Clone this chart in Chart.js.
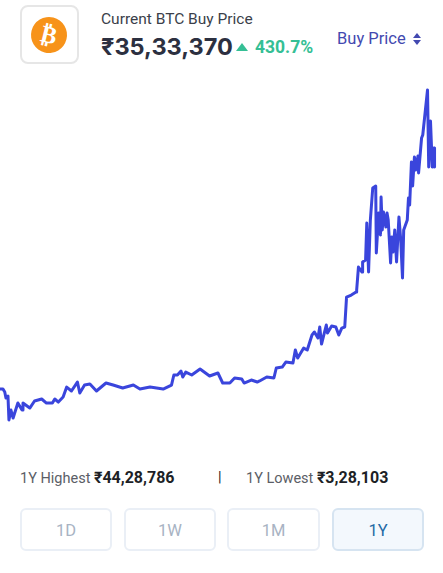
<!DOCTYPE html>
<html>
<head>
<meta charset="utf-8">
<title>BTC Buy Price</title>
<script src="https://cdn.jsdelivr.net/npm/chart.js@4"></script>
<style>
html, body { margin: 0; padding: 0; background: #fff; }
body { position: relative; width: 443px; height: 573px; overflow: hidden; font-family: Roboto, sans-serif; }
.abs { position: absolute; white-space: nowrap; }
#iconBox { left: 20px; top: 5px; width: 55px; height: 55px; border: 2px solid #e6e6e6; border-radius: 8px; }
#coin { left: 31px; top: 17px; width: 36px; height: 36px; border-radius: 50%; background: #f7931a; color: #fff; font: bold 24px/36px "DejaVu Sans"; text-align: center; transform: rotate(14deg); }
#title { left: 101px; top: 9px; font-size: 15.5px; line-height: 20px; color: #3b3f4a; }
#price { left: 101px; top: 33px; font: bold 23.5px/28px Inter, sans-serif; color: #2c3040; }
#arrow { left: 236px; top: 43px; width: 0; height: 0; border-left: 6.5px solid transparent; border-right: 6.5px solid transparent; border-bottom: 8px solid #35bf95; }
#change { left: 255px; top: 36px; font: bold 17.5px/22px Roboto, sans-serif; color: #35bf95; }
#buy { left: 337px; top: 29px; font-size: 16.5px; line-height: 20px; color: #4349b0; }
#up { left: 413px; top: 33px; width: 0; height: 0; border-left: 4.5px solid transparent; border-right: 4.5px solid transparent; border-bottom: 5px solid #4349b0; }
#down { left: 413px; top: 40px; width: 0; height: 0; border-left: 4.5px solid transparent; border-right: 4.5px solid transparent; border-top: 5px solid #4349b0; }
#chartBox { left: 0; top: 80px; width: 443px; height: 360px; }
.stat { top: 468px; font-size: 14.5px; line-height: 20px; color: #5b5e66; }
.stat b { font: bold 16px/20px Roboto, sans-serif; color: #1d1f26; }
.btn { top: 508px; height: 39px; border: 2px solid #eaeff6; border-radius: 6px; box-sizing: content-box; text-align: center; font-size: 16.5px; line-height: 42px; color: #a8b3c3; }
.btn.on { background: #f3f8fd; border-color: #d6e4f1; color: #1f6aa5; }
</style>
</head>
<body>
<div class="abs" id="iconBox"></div>
<div class="abs" id="coin">₿</div>
<div class="abs" id="title">Current BTC Buy Price</div>
<div class="abs" id="price">₹35,33,370</div>
<div class="abs" id="arrow"></div>
<div class="abs" id="change">430.7%</div>
<div class="abs" id="buy">Buy Price</div>
<div class="abs" id="up"></div>
<div class="abs" id="down"></div>

<div class="abs" id="chartBox"><canvas id="btcChart" width="443" height="360"></canvas></div>

<div class="abs stat" style="left:20px">1Y Highest <b>₹44,28,786</b></div>
<div class="abs stat" style="left:218px;color:#222">|</div>
<div class="abs stat" style="left:246px">1Y Lowest <b>₹3,28,103</b></div>

<div class="abs btn" style="left:20px;width:88px">1D</div>
<div class="abs btn" style="left:124px;width:88px">1W</div>
<div class="abs btn" style="left:227px;width:89px">1M</div>
<div class="abs btn on" style="left:332px;width:88px">1Y</div>

<script>
// hari ke-n dalam periode 1 tahun
var days = [0, 2.5, 4, 5, 6.7, 7.5, 9.2, 11, 12.6, 15, 18.5, 19.3, 25, 29, 35, 39, 44, 46, 49, 53, 56, 60, 65, 67, 71, 75.5, 81, 89, 95, 103, 112, 117.5,
    126, 137, 144, 146, 149, 152, 153.5, 156, 161, 168, 176, 183, 187, 193, 197, 203, 205, 211, 216, 218, 224, 230, 232, 237, 240, 246, 248, 250,
    255, 258, 262, 264, 267, 268.5, 270, 274, 275, 278.5, 282, 284.5, 287, 289.5, 291, 295, 299, 299.5, 301, 304, 304.5, 307, 308, 309.5, 311, 313, 315.5,
    316, 318, 319.5, 320, 321, 322, 324, 325, 326, 328, 329, 330, 331.5, 333, 335, 336.5, 338, 339, 342, 343, 344, 345.5, 346.5, 348, 349, 351, 351.5,
    354, 355, 359, 360, 361.5, 363, 364.5, 364.8, 365];

// harga dalam lakh rupee
var prices = [7.24, 7.24, 6.87, 6.13, 6.38, 3.40, 4.64, 3.65, 4.40, 5.51, 4.64, 5.51, 4.89, 5.76, 6.01, 5.51, 5.51, 6.01, 5.63, 6.25, 7.49, 7.00, 8.11, 6.75, 7.74, 7.86, 7.00, 7.99, 7.74, 7.37, 7.74, 7.24,
    7.49, 7.24, 7.74, 8.98, 8.98, 9.47, 8.73, 9.35, 8.98, 9.72, 8.86, 9.23, 7.99, 7.99, 8.61, 8.48, 7.99, 8.36, 8.11, 8.24, 8.73, 8.61, 9.85, 9.97, 10.59, 10.47, 12.08, 11.09,
    12.32, 12.08, 13.94, 14.31, 13.56, 14.93, 12.82, 15.17, 14.18, 15.05, 14.93, 13.94, 14.80, 14.93, 18.64, 18.89, 19.26, 19.51, 22.36, 21.74, 22.98, 23.23, 27.81, 21.74, 28.18, 32.15, 32.40,
    24.10, 29.05, 26.33, 31.03, 26.95, 29.18, 27.32, 29.05, 28.18, 22.86, 26.08, 24.22, 26.95, 22.98, 28.56, 25.71, 21.00, 26.95, 28.18, 30.91, 30.04, 35.37, 32.40, 35.99, 34.38, 36.11, 34.01,
    38.34, 38.72, 44.29, 34.75, 40.45, 34.75, 37.10, 34.75, 35.33];

var btcPoints = days.map(function (d, i) {
    return { x: d, y: prices[i] };
});

new Chart(document.getElementById('btcChart').getContext('2d'), {
    type: 'line',
    data: {
        datasets: [{
            label: 'BTC Buy Price',
            data: btcPoints,
            borderColor: '#3a45dc',
            borderWidth: 3,
            pointRadius: 0,
            tension: 0,
            fill: false,
            borderJoinStyle: 'round'
        }]
    },
    options: {
        responsive: false,
        animation: false,
        layout: { padding: 0 },
        plugins: {
            legend: { display: false },
            tooltip: { enabled: false }
        },
        scales: {
            x: { type: 'linear', display: false, min: 0, max: 372 },
            y: { display: false, min: 0.93, max: 45.53 }
        }
    }
});
</script>
</body>
</html>
